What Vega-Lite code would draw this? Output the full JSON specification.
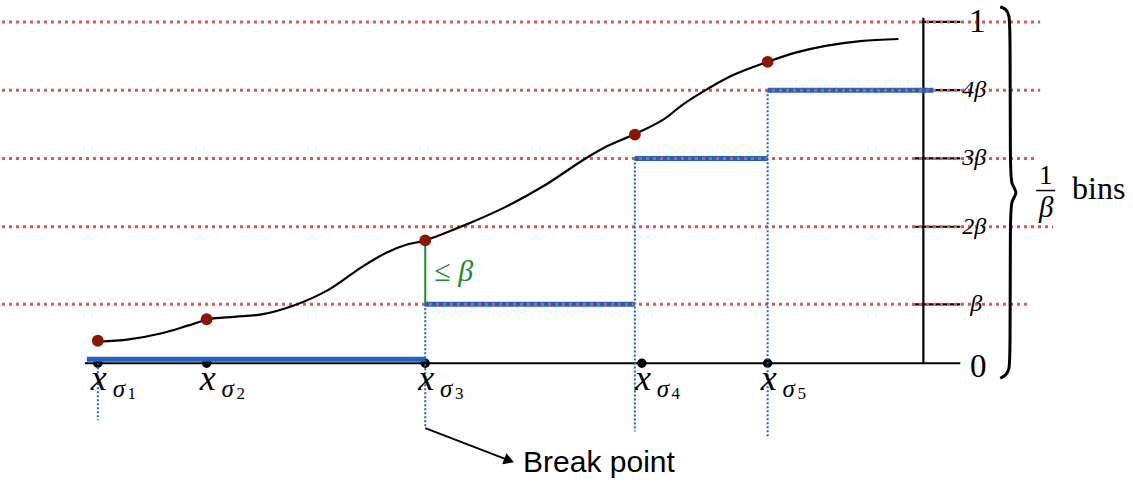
{
"$schema": "https://vega.github.io/schema/vega-lite/v6.json",
"width": 1133, "height": 483,
"autosize": {"type": "fit", "contains": "padding"},
"padding": 0,
"background": "white",
"config": {"view": {"stroke": null}},
"datasets": {
  "hgrid": [
    {"x": 0, "x2": 10.4, "y": 1},
    {"x": 0, "x2": 10.4, "y": 0.8},
    {"x": 0, "x2": 10.37, "y": 0.6},
    {"x": 0, "x2": 10.53, "y": 0.4},
    {"x": 0, "x2": 10.3, "y": 0.1725}
  ],
  "steps": [
    {"x": 0.85, "x2": 4.24, "y": 0.012},
    {"x": 4.24, "x2": 6.34, "y": 0.1725},
    {"x": 6.34, "x2": 7.67, "y": 0.6},
    {"x": 7.67, "x2": 9.33, "y": 0.8}
  ],
  "vdots": [
    {"x": 0.96, "y": 0, "y2": -0.167},
    {"x": 4.24, "y": 0.1725, "y2": -0.19},
    {"x": 6.34, "y": 0.6, "y2": -0.2},
    {"x": 7.67, "y": 0.8, "y2": -0.216}
  ],
  "axes": [
    {"x": 0.83, "x2": 9.6, "y": 0, "y2": 0},
    {"x": 9.23, "x2": 9.23, "y": 0, "y2": 1.012},
    {"x": 9.2, "x2": 9.6, "y": 1, "y2": 1},
    {"x": 9.23, "x2": 9.6, "y": 0.8, "y2": 0.8},
    {"x": 9.13, "x2": 9.6, "y": 0.6, "y2": 0.6},
    {"x": 9.12, "x2": 9.6, "y": 0.4, "y2": 0.4},
    {"x": 9.12, "x2": 9.6, "y": 0.1725, "y2": 0.1725}
  ],
  "green": [{"x": 4.24, "y": 0.1725, "y2": 0.36}],
  "curve": [
    {"x": 0.96, "y": 0.063}, {"x": 1.27, "y": 0.07}, {"x": 1.6, "y": 0.088},
    {"x": 1.87, "y": 0.111}, {"x": 2.07, "y": 0.129}, {"x": 2.33, "y": 0.136},
    {"x": 2.6, "y": 0.143}, {"x": 2.93, "y": 0.17}, {"x": 3.27, "y": 0.215},
    {"x": 3.6, "y": 0.281}, {"x": 3.85, "y": 0.324}, {"x": 4.05, "y": 0.347},
    {"x": 4.24, "y": 0.36}, {"x": 4.63, "y": 0.404}, {"x": 5.03, "y": 0.456},
    {"x": 5.43, "y": 0.52}, {"x": 5.83, "y": 0.597}, {"x": 6.07, "y": 0.637},
    {"x": 6.33, "y": 0.67}, {"x": 6.62, "y": 0.713}, {"x": 6.83, "y": 0.76},
    {"x": 7.07, "y": 0.804}, {"x": 7.33, "y": 0.845}, {"x": 7.67, "y": 0.883},
    {"x": 7.95, "y": 0.91}, {"x": 8.25, "y": 0.93}, {"x": 8.6, "y": 0.944},
    {"x": 8.98, "y": 0.95}
  ],
  "reddots": [
    {"x": 0.96, "y": 0.066}, {"x": 2.05, "y": 0.129}, {"x": 4.24, "y": 0.36},
    {"x": 6.34, "y": 0.67}, {"x": 7.67, "y": 0.883}
  ],
  "sigma": [
    {"x": 0.96, "y": 0, "n": "1"}, {"x": 2.05, "y": 0, "n": "2"},
    {"x": 4.24, "y": 0, "n": "3"}, {"x": 6.41, "y": 0, "n": "4"},
    {"x": 7.67, "y": 0, "n": "5"}
  ],
  "ybig": [
    {"x": 9.77, "y": 1, "t": "1"}, {"x": 9.78, "y": -0.012, "t": "0"}
  ],
  "ysmall": [
    {"x": 9.62, "y": 0.8, "t": "4β"}, {"x": 9.62, "y": 0.6, "t": "3β"},
    {"x": 9.62, "y": 0.4, "t": "2β"}, {"x": 9.7, "y": 0.1725, "t": "β"}
  ],
  "brace": [
    {"i": 0, "x": 10.0, "y": 1.044}, {"i": 1, "x": 10.06, "y": 1.038},
    {"i": 2, "x": 10.09, "y": 1.02}, {"i": 3, "x": 10.1, "y": 0.985},
    {"i": 4, "x": 10.1, "y": 0.564}, {"i": 5, "x": 10.11, "y": 0.523},
    {"i": 6, "x": 10.18, "y": 0.5}, {"i": 7, "x": 10.11, "y": 0.477},
    {"i": 8, "x": 10.1, "y": 0.436}, {"i": 9, "x": 10.1, "y": 0.015},
    {"i": 10, "x": 10.09, "y": -0.018}, {"i": 11, "x": 10.06, "y": -0.035},
    {"i": 12, "x": 10.0, "y": -0.044}
  ],
  "fracbar": [{"x": 10.36, "x2": 10.55, "y": 0.506}],
  "arrow": [{"x": 4.24, "y": -0.19, "x2": 5.1, "y2": -0.287}],
  "arrowhead": [{"x": 5.08, "y": -0.285}]
},
"encoding": {
  "x": {"field": "x", "type": "quantitative", "scale": {"domain": [0, 11.33], "nice": false, "zero": false}, "axis": null},
  "y": {"field": "y", "type": "quantitative", "scale": {"domain": [-0.3509, 1.0614], "nice": false, "zero": false}, "axis": null}
},
"layer": [
  {"data": {"name": "axes"}, "mark": {"type": "rule", "color": "black", "strokeWidth": 2.2},
   "encoding": {"x2": {"field": "x2"}, "y2": {"field": "y2"}}},
  {"data": {"name": "sigma"}, "mark": {"type": "point", "shape": "circle", "filled": true, "color": "black", "size": 90, "opacity": 1}},
  {"data": {"name": "steps"}, "mark": {"type": "rule", "color": "#1b64c3", "strokeWidth": 5},
   "encoding": {"x2": {"field": "x2"}}},
  {"data": {"name": "hgrid"}, "mark": {"type": "rule", "color": "#d65a5a", "strokeWidth": 3, "strokeDash": [3, 4]},
   "encoding": {"x2": {"field": "x2"}}},
  {"data": {"name": "vdots"}, "mark": {"type": "rule", "color": "#1b64c3", "strokeWidth": 2, "strokeDash": [2, 2]},
   "encoding": {"y2": {"field": "y2"}}},
  {"data": {"name": "green"}, "mark": {"type": "rule", "color": "#1f8a2e", "strokeWidth": 2},
   "encoding": {"y2": {"field": "y2"}}},
  {"data": {"name": "curve"}, "mark": {"type": "line", "color": "black", "strokeWidth": 2.2, "interpolate": "catmull-rom"}, "encoding": {}},
  {"data": {"name": "reddots"}, "mark": {"type": "point", "shape": "circle", "filled": true, "color": "#8b1507", "size": 140, "opacity": 1}},
  {"data": {"name": "arrow"}, "mark": {"type": "rule", "color": "black", "strokeWidth": 1.8},
   "encoding": {"x2": {"field": "x2"}, "y2": {"field": "y2"}}},
  {"data": {"name": "arrowhead"}, "mark": {"type": "point", "shape": "triangle-right", "filled": true, "color": "black", "size": 140, "angle": 21, "opacity": 1}},
  {"data": {"name": "brace"}, "mark": {"type": "line", "color": "black", "strokeWidth": 3, "interpolate": "basis"},
   "encoding": {"order": {"field": "i", "type": "quantitative"}}},
  {"data": {"name": "fracbar"}, "mark": {"type": "rule", "color": "black", "strokeWidth": 1.5},
   "encoding": {"x2": {"field": "x2"}}},
  {"data": {"name": "sigma"}, "mark": {"type": "text", "text": "x", "font": "Liberation Serif", "fontStyle": "italic", "fontSize": 36, "align": "center", "baseline": "alphabetic", "dx": 1, "color": "black"},
   "encoding": {"y": {"datum": -0.079}}},
  {"data": {"name": "sigma"}, "mark": {"type": "text", "text": "σ", "font": "Liberation Serif", "fontStyle": "italic", "fontSize": 25, "align": "center", "baseline": "alphabetic", "dx": 21, "color": "black"},
   "encoding": {"y": {"datum": -0.099}}},
  {"data": {"name": "sigma"}, "mark": {"type": "text", "font": "Liberation Serif", "fontSize": 17, "align": "center", "baseline": "alphabetic", "dx": 34, "color": "black"},
   "encoding": {"y": {"datum": -0.104}, "text": {"field": "n"}}},
  {"data": {"name": "ybig"}, "mark": {"type": "text", "font": "Liberation Serif", "fontSize": 33, "align": "center", "baseline": "middle", "color": "black"},
   "encoding": {"text": {"field": "t"}}},
  {"data": {"name": "ysmall"}, "mark": {"type": "text", "font": "Liberation Serif", "fontStyle": "italic", "fontSize": 24, "align": "left", "baseline": "middle", "color": "black"},
   "encoding": {"text": {"field": "t"}}},
  {"data": {"values": [{"x": 10.455, "y": 0.548, "t": "1"}]}, "mark": {"type": "text", "font": "Liberation Serif", "fontSize": 27, "align": "center", "baseline": "middle", "color": "black"},
   "encoding": {"text": {"field": "t"}}},
  {"data": {"values": [{"x": 10.46, "y": 0.456, "t": "β"}]}, "mark": {"type": "text", "font": "Liberation Serif", "fontStyle": "italic", "fontSize": 29, "align": "center", "baseline": "middle", "color": "black"},
   "encoding": {"text": {"field": "t"}}},
  {"data": {"values": [{"x": 10.72, "y": 0.512, "t": "bins"}]}, "mark": {"type": "text", "font": "Liberation Serif", "fontSize": 32, "align": "left", "baseline": "middle", "color": "black"},
   "encoding": {"text": {"field": "t"}}},
  {"data": {"values": [{"x": 4.33, "y": 0.266, "t": "≤ β"}]}, "mark": {"type": "text", "font": "Liberation Serif", "fontStyle": "italic", "fontSize": 30, "align": "left", "baseline": "middle", "color": "#1f8a2e"},
   "encoding": {"text": {"field": "t"}}},
  {"data": {"values": [{"x": 5.22, "y": -0.292, "t": "Break point"}]}, "mark": {"type": "text", "font": "Liberation Sans", "fontSize": 30, "align": "left", "baseline": "middle", "color": "black"},
   "encoding": {"text": {"field": "t"}}}
]
}
